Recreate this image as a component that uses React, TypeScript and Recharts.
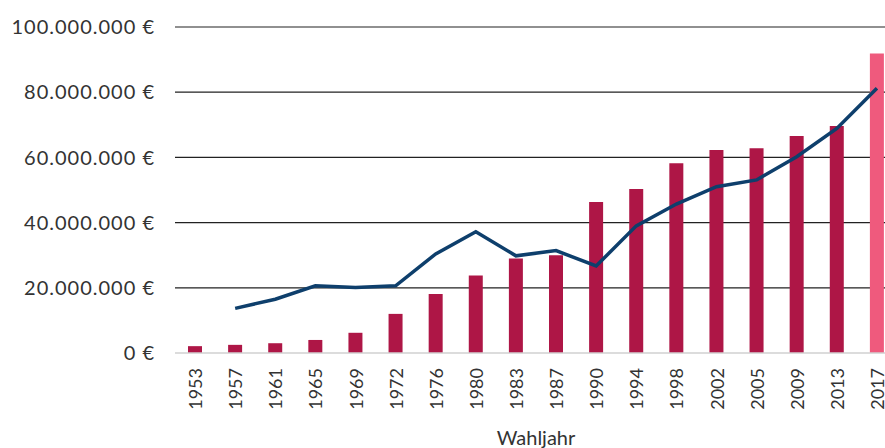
import { ComposedChart, Bar, Line, XAxis, YAxis, CartesianGrid, Cell } from 'recharts'

const years = ['1953', '1957', '1961', '1965', '1969', '1972', '1976', '1980', '1983', '1987', '1990', '1994', '1998', '2002', '2005', '2009', '2013', '2017']

// bars: Wahlkampfkosten / Einnahmen (in Euro)
const barValues = [2.1, 2.5, 3.0, 4.0, 6.2, 12.0, 18.1, 23.8, 29.0, 30.0, 46.3, 50.3, 58.2, 62.3, 62.8, 66.6, 69.6, 91.9]

// line, beginning in 1957
const lineValues = [null, 13.7, 16.5, 20.6, 20.1, 20.6, 30.4, 37.2, 29.8, 31.4, 26.7, 39.0, 45.7, 51.0, 53.1, 60.2, 68.9, 81.2]

const yTicks = [0, 20000000, 40000000, 60000000, 80000000, 100000000]
const gridValues = [20000000, 40000000, 60000000, 80000000, 100000000]

const data = years.map((year, i) => ({
  year,
  bar: barValues[i] * 1000000,
  line: lineValues[i] === null ? null : (lineValues[i] as number) * 1000000,
}))

const font = 'Lato, "Open Sans", sans-serif'

const formatEuro = (v: number) => v.toLocaleString('de-DE') + ' €'

function YearTick(props: any) {
  const { x, y, payload } = props
  return (
    <text
      x={x}
      y={y}
      transform={`rotate(-90 ${x} ${y})`}
      textAnchor="end"
      dominantBaseline="central"
      fill="#333"
      fontSize={18}
      fontFamily={font}
    >
      {payload.value}
    </text>
  )
}

export default function App() {
  return (
    <div style={{ position: 'absolute', left: 0, top: 0, width: 885, height: 448, overflow: 'hidden', background: '#fff' }}>
      <ComposedChart width={897} height={448} data={data} margin={{ top: 27, right: 0, bottom: 0, left: 0 }}>
        <CartesianGrid vertical={false} horizontalValues={gridValues} stroke="#222" strokeWidth={1.2} />
        <XAxis
          dataKey="year"
          height={95}
          tick={<YearTick />}
          tickLine={false}
          tickSize={0}
          tickMargin={15}
          interval={0}
          stroke="#d0d0d0"
          strokeWidth={1.5}
          label={{ value: 'Wahljahr', position: 'insideBottom', offset: 3, fill: '#333', fontSize: 20, fontFamily: font }}
        />
        <YAxis
          width={175}
          domain={[0, 100000000]}
          ticks={yTicks}
          tickFormatter={formatEuro}
          axisLine={false}
          tickLine={false}
          tickSize={0}
          tickMargin={20}
          tick={{ fill: '#333', fontSize: 20, fontFamily: font, letterSpacing: 1 }}
        />
        <Bar dataKey="bar" barSize={14} isAnimationActive={false}>
          {data.map((d, i) => (
            <Cell key={d.year} fill={i === data.length - 1 ? '#EF5A7D' : '#AE1646'} />
          ))}
        </Bar>
        <Line
          dataKey="line"
          type="linear"
          stroke="#0E3F6C"
          strokeWidth={3.5}
          dot={false}
          isAnimationActive={false}
        />
      </ComposedChart>
    </div>
  )
}
